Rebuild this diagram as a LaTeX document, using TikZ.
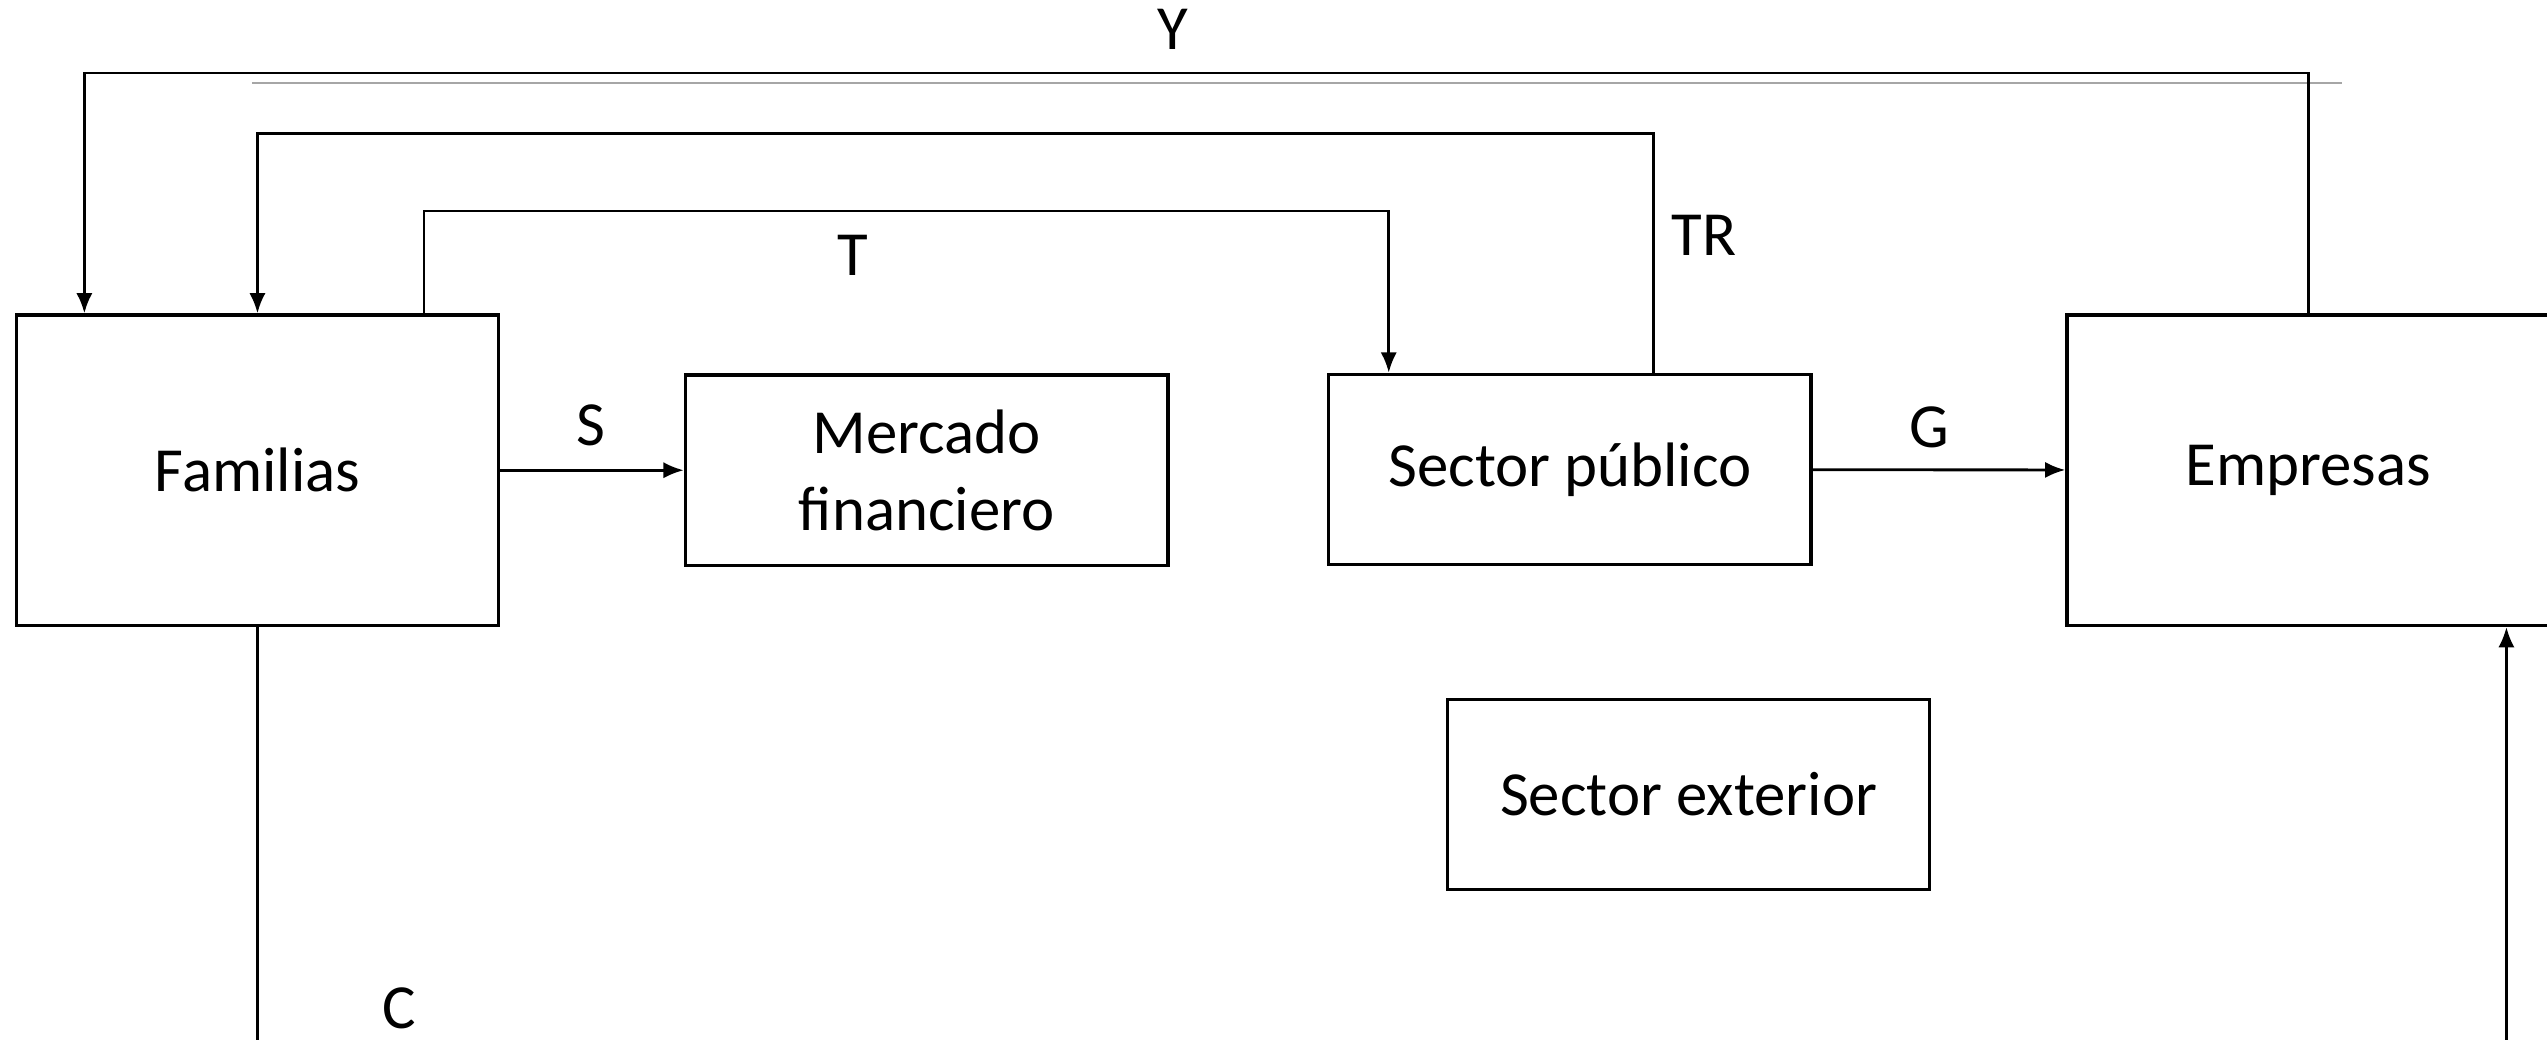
\documentclass[tikz,border=0pt]{standalone}
\usepackage{fontspec}
\setmainfont{Carlito}
\usetikzlibrary{arrows.meta}

\begin{document}
\begin{tikzpicture}[
            ->,>={Latex[length=2.5mm,width=2mm]},line width=1pt,
            font=\fontsize{22}{27}\selectfont,
            sector/.style={draw,-,line width=1.2pt,rectangle,align=center,
                minimum width=5.94cm,minimum height=2.34cm,inner sep=0pt},
            big/.style={sector,minimum height=3.82cm}
        ]
        \useasboundingbox (0,0) rectangle (31.36,12.8);
        \node[big] (fam) at (3.17,7.01) {Familias};
        \node[sector] (merc) at (11.41,7.01) {Mercado\\financiero};
        \node[sector] (sp) at (19.33,7.02) {Sector público};
        \node[big] (emp) at (28.42,7.01) {Empresas};
        \node[sector] (ext) at (20.79,3.02) {Sector exterior};
        % free ends at the border
        \coordinate (cbot) at (3.17,-0.2);
        \coordinate (ebot) at (30.86,-0.2);
        \coordinate (g1) at (3.1,11.78);
        \coordinate (g2) at (28.84,11.78);
        \draw[-,gray!70,line width=0.6pt] (g1) -- (g2);
        % flows
        \draw (emp.north) -- ++(0,2.96) -| ([xshift=0.86cm]fam.north west);
        \draw ([xshift=4.02cm]sp.north west) -- ++(0,2.94) -| (fam.north);
        \draw ([xshift=2.05cm]fam.north) -- ++(0,1.26) -| ([xshift=0.76cm]sp.north west);
        \path (fam) edge (merc)
        (sp) edge (emp);
        \draw[-] (fam.south) -- (cbot);
        \draw (ebot) -- (ebot |- emp.south);
        % labels
        \node (y) at (14.44,12.44) {Y};
        \node (t) at (10.5,9.66) {T};
        \node (tr) at (20.98,9.9) {TR};
        \node (s) at (7.28,7.56) {S};
        \node (g) at (23.76,7.54) {G};
        \node (c) at (4.92,0.38) {C};
        \end{tikzpicture}
\end{document}
